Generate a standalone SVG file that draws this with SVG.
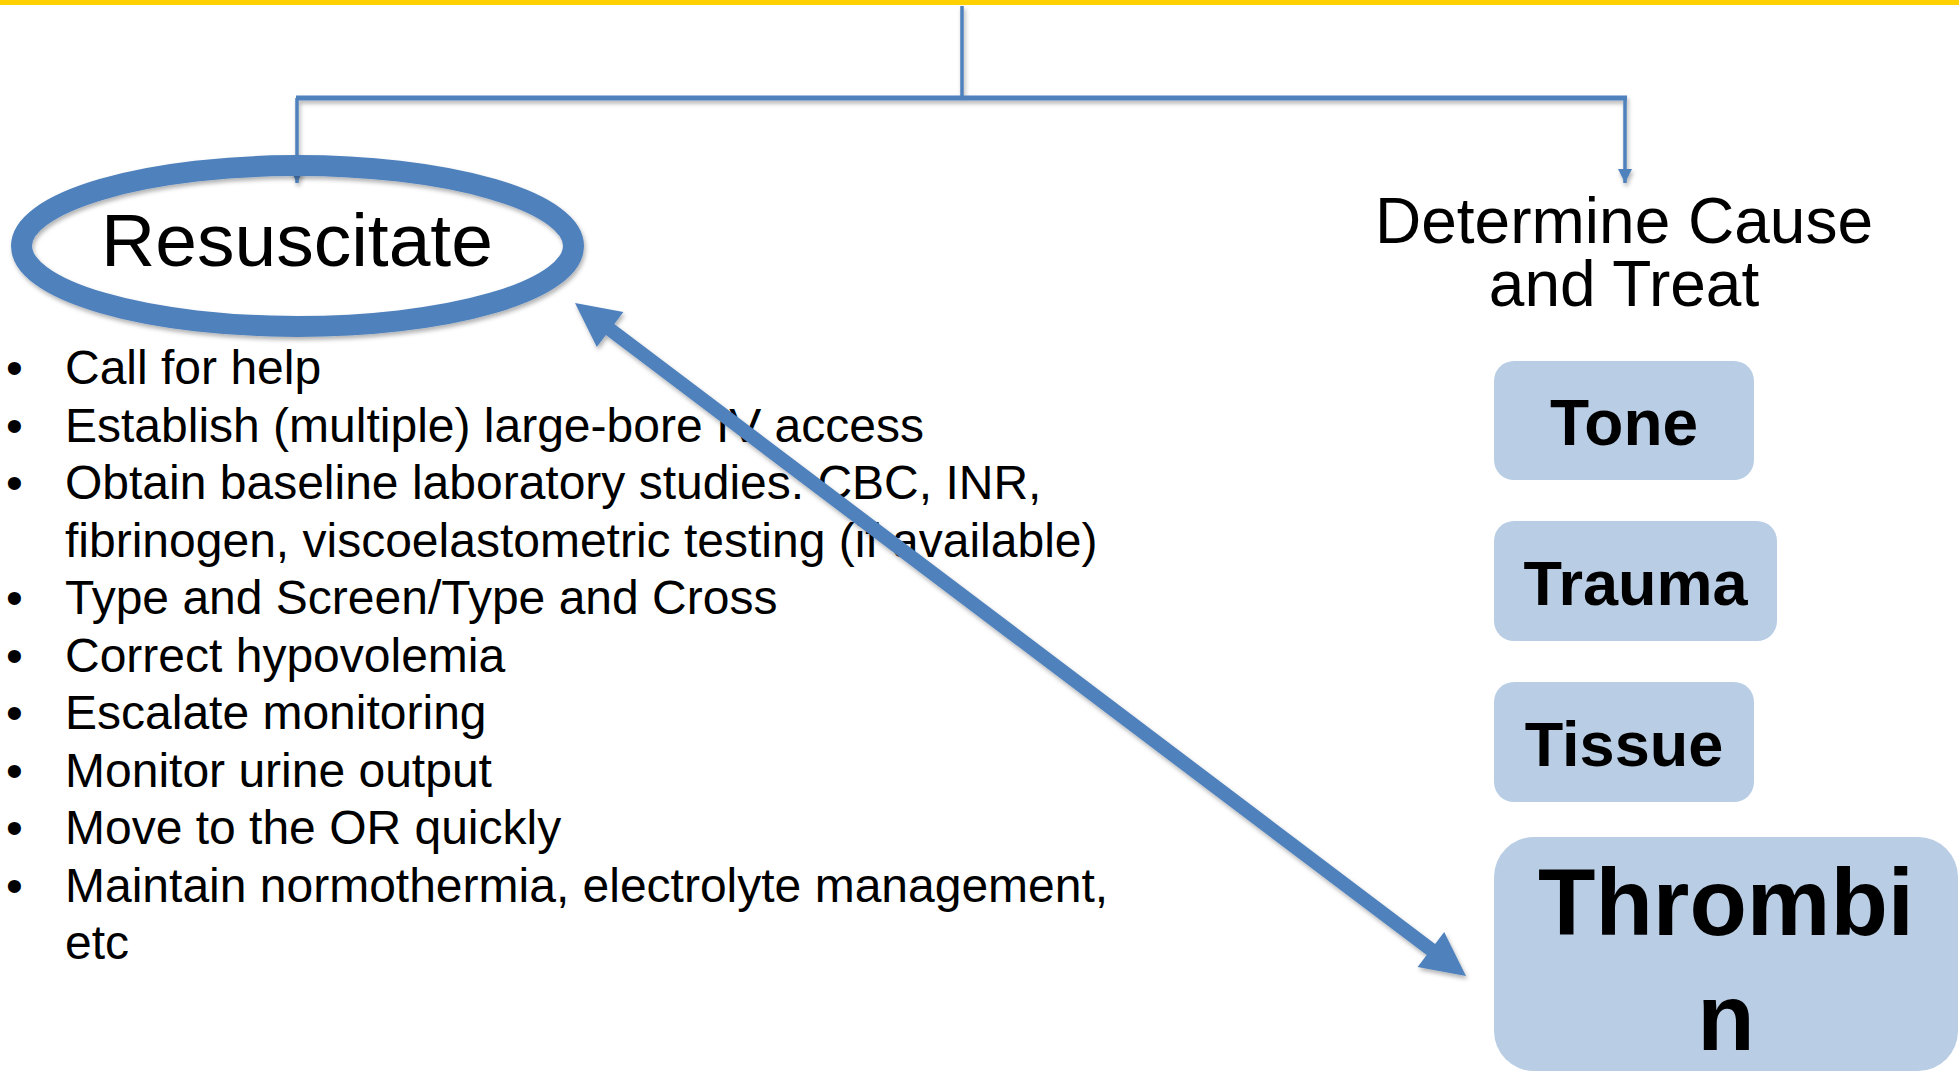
<svg xmlns="http://www.w3.org/2000/svg" width="1959" height="1073" viewBox="0 0 1959 1073">
  <style>
    .conn { stroke: #4F81BD; fill: none; }
    .txt { font-family: "Liberation Sans", Arial, sans-serif; fill: #000; }
    .list { font-size: 48px; }
    .box { fill: #B9CDE5; }
    .boxlabel { font-family: "Liberation Sans", Arial, sans-serif; font-weight: bold; fill: #000; text-anchor: middle; }
  </style>
  <defs>
    <filter id="shadow" x="-10%" y="-10%" width="120%" height="130%">
      <feDropShadow dx="1.5" dy="3" stdDeviation="2" flood-color="#000" flood-opacity="0.3"/>
    </filter>
    <marker id="head" viewBox="0 0 10 10" refX="10" refY="5" markerWidth="4" markerHeight="5" markerUnits="strokeWidth" orient="auto">
      <path d="M0,0 L10,5 L0,10 z" fill="#4F81BD"/>
    </marker>
  </defs>

  <rect x="0" y="0" width="1959" height="5" fill="#FFD100"/>

  <!-- tree connectors -->
  <g id="connectors" filter="url(#shadow)">
    <line class="conn" x1="962" y1="6" x2="962" y2="98" stroke-width="3.5"/>
    <line class="conn" x1="296" y1="98" x2="1627" y2="98" stroke-width="5"/>
    <line class="conn" x1="297" y1="98" x2="297" y2="183" stroke-width="3.5" marker-end="url(#head)"/>
    <line class="conn" x1="1625" y1="98" x2="1625" y2="183" stroke-width="3.5" marker-end="url(#head)"/>
  </g>

  <g id="resuscitate">
    <ellipse cx="297.5" cy="246" rx="276" ry="80.5" fill="none" stroke="#4F81BD" stroke-width="21" filter="url(#shadow)"/>
    <text class="txt" x="297" y="266" font-size="75" text-anchor="middle">Resuscitate</text>
  </g>

  <g id="resuscitate-steps" class="txt list">
    <text x="6" y="384">•</text><text x="65" y="384">Call for help</text>
    <text x="6" y="442">•</text><text x="65" y="442">Establish (multiple) large-bore IV access</text>
    <text x="6" y="499">•</text><text x="65" y="499">Obtain baseline laboratory studies: CBC, INR,</text>
    <text x="65" y="557">fibrinogen, viscoelastometric testing (if available)</text>
    <text x="6" y="614">•</text><text x="65" y="614">Type and Screen/Type and Cross</text>
    <text x="6" y="672">•</text><text x="65" y="672">Correct hypovolemia</text>
    <text x="6" y="729">•</text><text x="65" y="729">Escalate monitoring</text>
    <text x="6" y="787">•</text><text x="65" y="787">Monitor urine output</text>
    <text x="6" y="844">•</text><text x="65" y="844">Move to the OR quickly</text>
    <text x="6" y="902">•</text><text x="65" y="902">Maintain normothermia, electrolyte management,</text>
    <text x="65" y="959">etc</text>
  </g>

  <g id="determine-cause" class="txt" font-size="64" text-anchor="middle">
    <text x="1624" y="243">Determine Cause</text>
    <text x="1624" y="306">and Treat</text>
  </g>

  <g id="tone">
    <rect class="box" x="1494" y="361" width="260" height="119" rx="20"/>
    <text class="boxlabel" x="1624" y="445" font-size="64">Tone</text>
  </g>
  <g id="trauma">
    <rect class="box" x="1494" y="521" width="283" height="120" rx="20"/>
    <text class="boxlabel" x="1635.5" y="605" font-size="63">Trauma</text>
  </g>
  <g id="tissue">
    <rect class="box" x="1494" y="682" width="260" height="120" rx="20"/>
    <text class="boxlabel" x="1624" y="766" font-size="63">Tissue</text>
  </g>
  <g id="thrombin">
    <rect class="box" x="1494" y="837" width="464" height="234" rx="40"/>
    <text class="boxlabel" x="1726" y="935" font-size="94">Thrombi</text>
    <text class="boxlabel" x="1726" y="1050" font-size="94">n</text>
  </g>

  <!-- two-headed link between Resuscitate and Thrombin -->
  <g id="link" filter="url(#shadow)">
    <polygon fill="#4F81BD" points="575,303 596.8,347.1 605.9,335.1 1426.7,955.1 1417.6,967.1 1466,976 1444.2,931.9 1435.1,943.9 614.3,323.9 623.4,312"/>
  </g>
</svg>
